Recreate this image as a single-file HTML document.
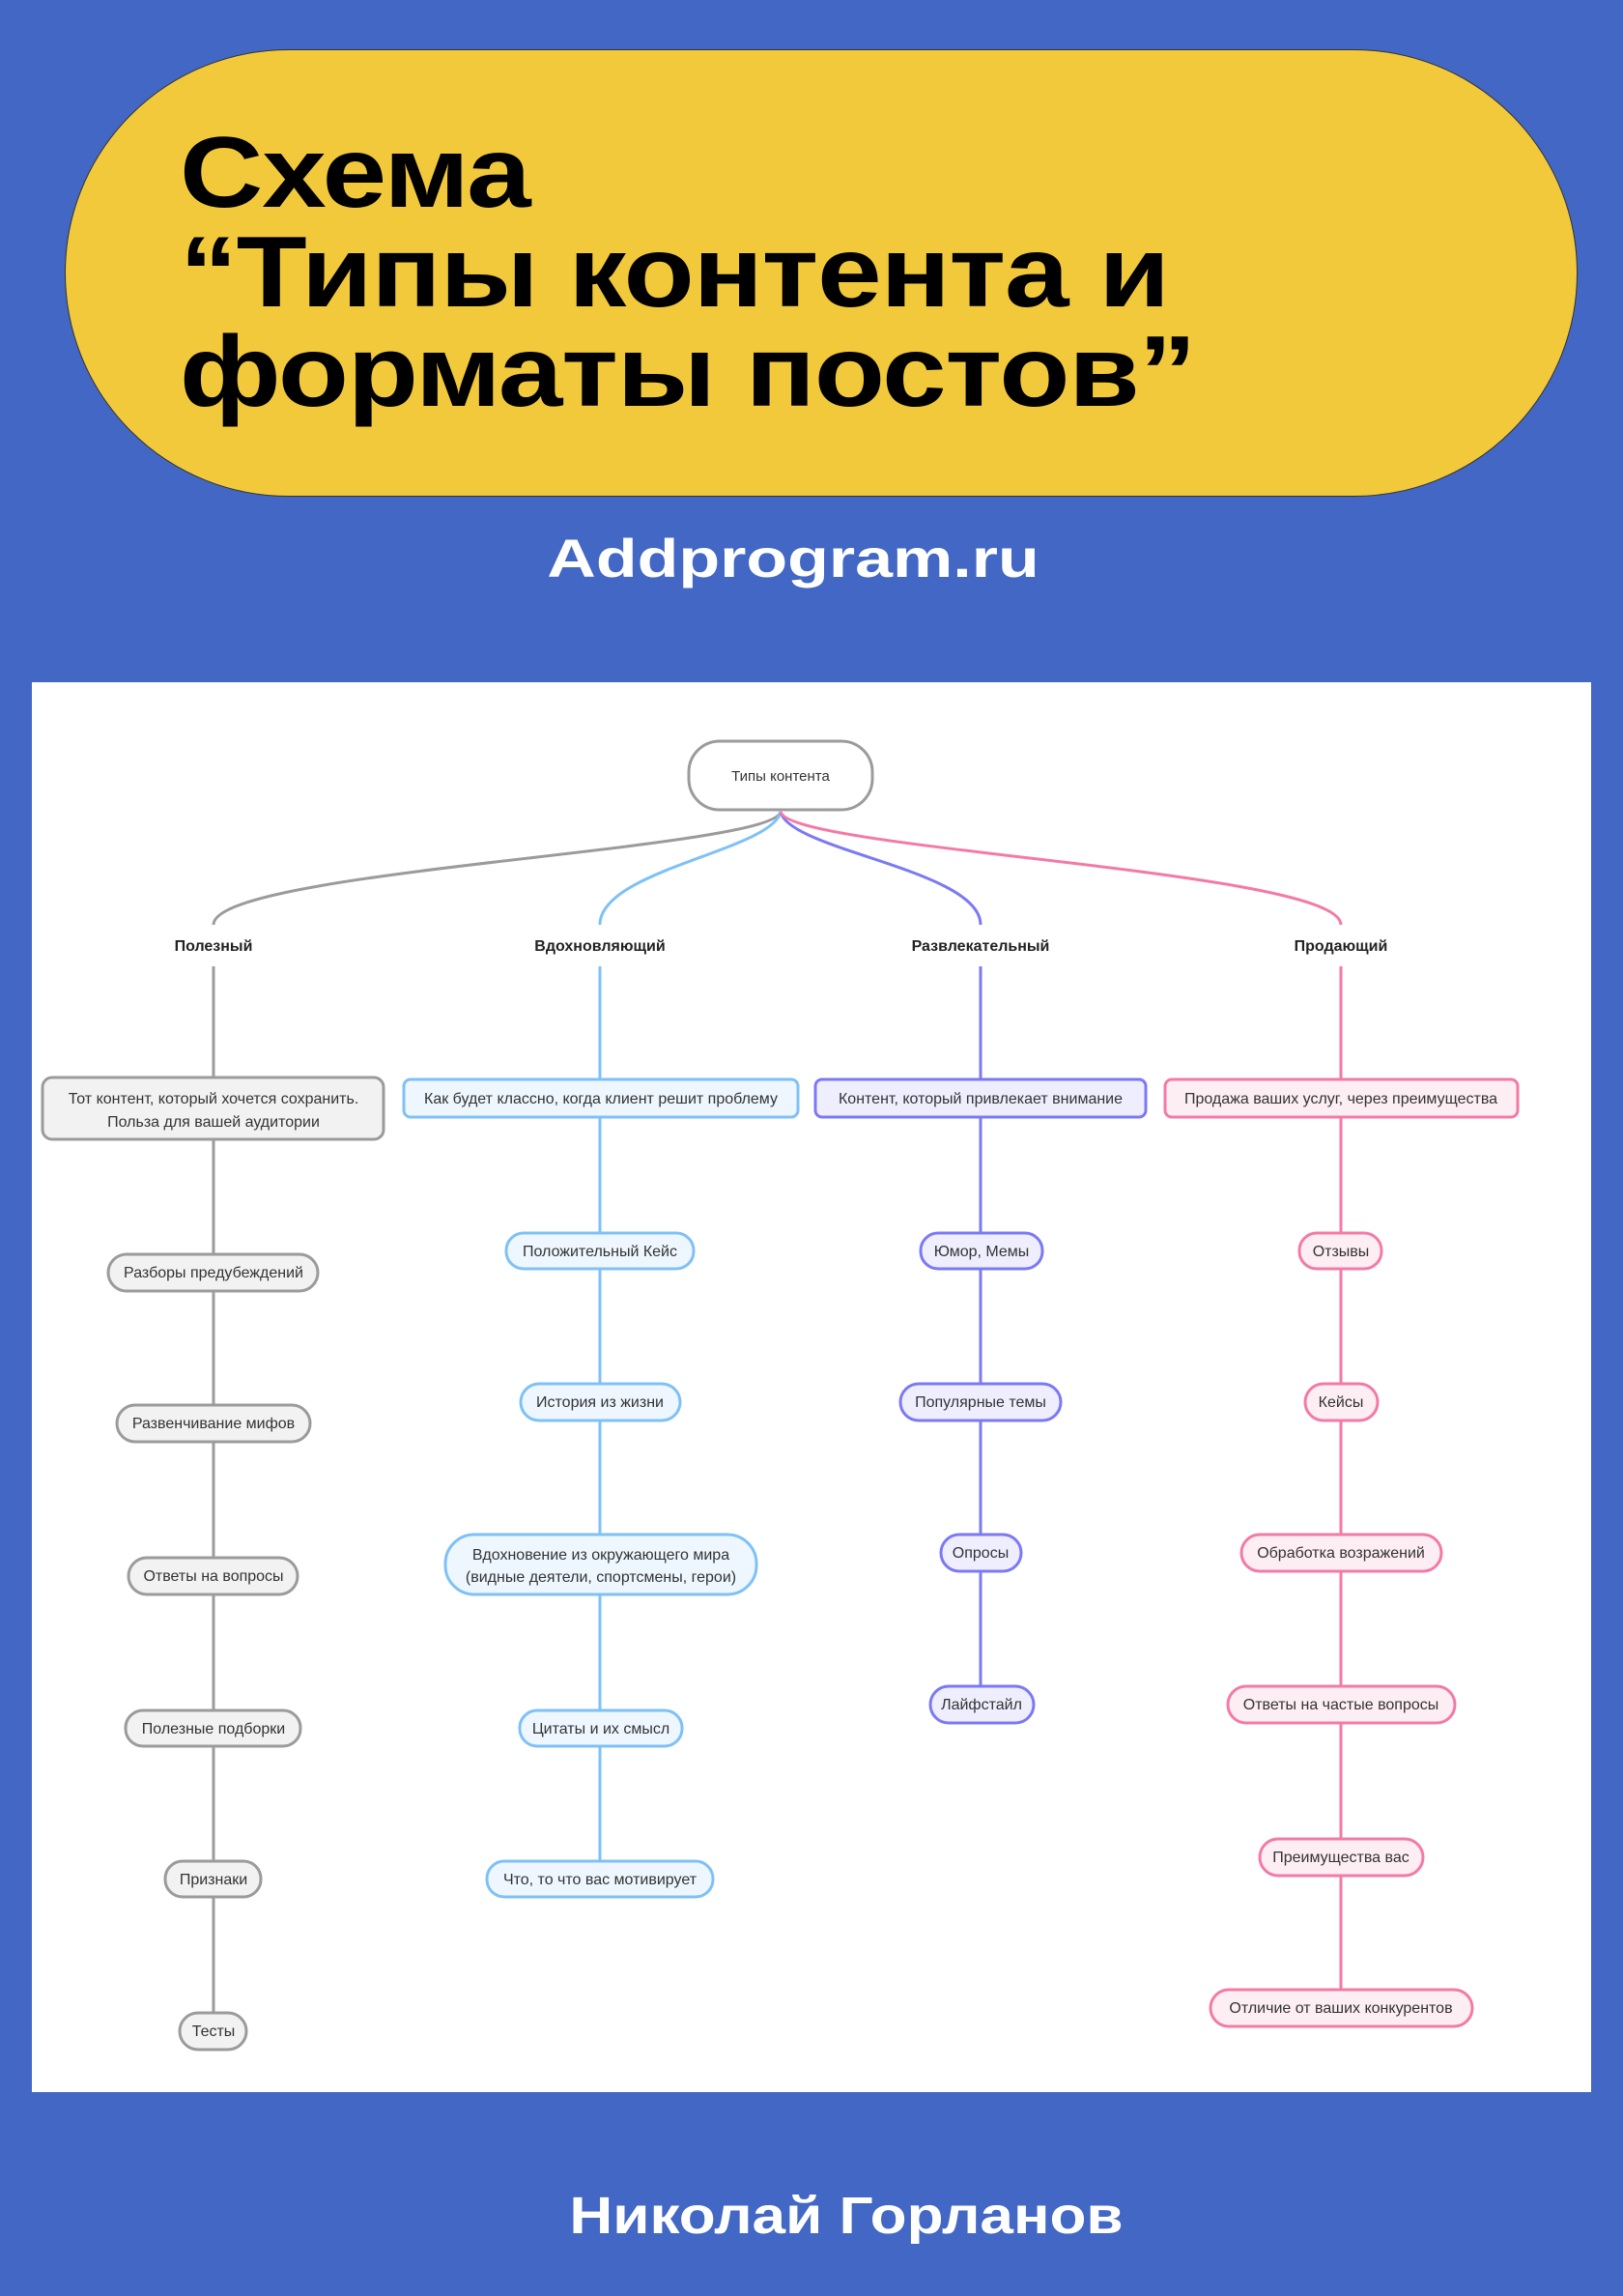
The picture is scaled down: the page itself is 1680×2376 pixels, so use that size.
<!DOCTYPE html>
<html><head><meta charset="utf-8"><style>
html,body{margin:0;padding:0}
body{width:1680px;height:2376px;background:#4267c4;position:relative;overflow:hidden;font-family:"Liberation Sans",sans-serif}
.pill{position:absolute;left:67px;top:51px;width:1566px;height:463px;background:#f2c93b;border:1.5px solid #333;border-radius:232px/232px;box-sizing:border-box}
.title{position:absolute;left:186px;top:128px;font-weight:bold;font-size:104px;line-height:103px;color:#000;letter-spacing:-1px;transform:scaleX(1.15);transform-origin:0 0;white-space:nowrap}
.site{position:absolute;left:0;width:1642px;text-align:center;top:545px;font-size:56px;font-weight:bold;color:#fff;transform:scaleX(1.25);transform-origin:821px 0}
.foot{position:absolute;left:0;width:1752px;text-align:center;top:2262px;font-size:54px;font-weight:bold;color:#fff;transform:scaleX(1.15);transform-origin:876px 0}
.panel{position:absolute;left:33px;top:706px;width:1614px;height:1459px;background:#fff}
</style></head><body>
<div class="pill"></div>
<div class="title">Схема<br>“Типы контента и<br>форматы постов”</div>
<div class="site">Addprogram.ru</div>
<div class="panel"></div>
<div class="foot">Николай Горланов</div>
<svg width="1680" height="2376" style="position:absolute;left:0;top:0" font-family="Liberation Sans, sans-serif" font-size="16" text-anchor="middle">
<g fill="none" stroke-width="3">
<path d="M808,840 C800,880 221,900 221,957" stroke="#9b9b9b"/>
<path d="M808,840 C800,880 621,900 621,957" stroke="#7ec1f7"/>
<path d="M808,840 C816,880 1015,900 1015,957" stroke="#7b79f5"/>
<path d="M808,840 C816,880 1388,900 1388,957" stroke="#f47aa6"/>
<line x1="221" y1="1000" x2="221" y2="2083" stroke="#9b9b9b"/>
<line x1="621" y1="1000" x2="621" y2="1926" stroke="#7ec1f7"/>
<line x1="1015" y1="1000" x2="1015" y2="1745" stroke="#7b79f5"/>
<line x1="1388" y1="1000" x2="1388" y2="2059" stroke="#f47aa6"/>
</g>
<rect x="713" y="767" width="190" height="71" rx="32" fill="#fff" stroke="#9b9b9b" stroke-width="3"/>
<text x="808" y="808" fill="#333" font-size="15">Типы контента</text>
<g font-weight="bold" font-size="16" fill="#222">
<text x="221" y="984">Полезный</text>
<text x="621" y="984">Вдохновляющий</text>
<text x="1015" y="984">Развлекательный</text>
<text x="1388" y="984">Продающий</text>
</g>
<g stroke-width="3" fill="#f3f2f2" stroke="#9b9b9b">
<rect x="44" y="1115" width="353" height="64" rx="10"/>
<rect x="112" y="1298" width="217" height="38" rx="19"/>
<rect x="121" y="1454" width="200" height="38" rx="19"/>
<rect x="133" y="1612" width="175" height="38" rx="19"/>
<rect x="130" y="1770" width="181" height="37" rx="18"/>
<rect x="171" y="1926" width="99" height="37" rx="18"/>
<rect x="186" y="2083" width="69" height="38" rx="19"/>
</g>
<g stroke-width="3" fill="#eef7ff" stroke="#7ec1f7">
<rect x="418" y="1117" width="408" height="39" rx="7"/>
<rect x="524" y="1276" width="194" height="37" rx="18"/>
<rect x="539" y="1432" width="165" height="38" rx="19"/>
<rect x="461" y="1588" width="322" height="62" rx="30"/>
<rect x="538" y="1770" width="168" height="37" rx="18"/>
<rect x="504" y="1926" width="234" height="37" rx="18"/>
</g>
<g stroke-width="3" fill="#efeefe" stroke="#7b79f5">
<rect x="844" y="1117" width="342" height="39" rx="7"/>
<rect x="953" y="1276" width="126" height="37" rx="18"/>
<rect x="932" y="1432" width="166" height="38" rx="19"/>
<rect x="974" y="1588" width="83" height="38" rx="19"/>
<rect x="963" y="1745" width="107" height="38" rx="19"/>
</g>
<g stroke-width="3" fill="#fdeef3" stroke="#f47aa6">
<rect x="1206" y="1117" width="365" height="39" rx="7"/>
<rect x="1345" y="1276" width="85" height="37" rx="18"/>
<rect x="1351" y="1432" width="75" height="38" rx="19"/>
<rect x="1285" y="1588" width="207" height="38" rx="19"/>
<rect x="1271" y="1745" width="235" height="38" rx="19"/>
<rect x="1304" y="1903" width="169" height="38" rx="19"/>
<rect x="1253" y="2059" width="271" height="38" rx="19"/>
</g>
<g fill="#333">
<text x="221" y="1142">Тот контент, который хочется сохранить.</text>
<text x="221" y="1166">Польза для вашей аудитории</text>
<text x="221" y="1322">Разборы предубеждений</text>
<text x="221" y="1478">Развенчивание мифов</text>
<text x="221" y="1636">Ответы на вопросы</text>
<text x="221" y="1794">Полезные подборки</text>
<text x="221" y="1950">Признаки</text>
<text x="221" y="2107">Тесты</text>
<text x="622" y="1142">Как будет классно, когда клиент решит проблему</text>
<text x="621" y="1300">Положительный Кейс</text>
<text x="621" y="1456">История из жизни</text>
<text x="622" y="1614">Вдохновение из окружающего мира</text>
<text x="622" y="1637">(видные деятели, спортсмены, герои)</text>
<text x="622" y="1794">Цитаты и их смысл</text>
<text x="621" y="1950">Что, то что вас мотивирует</text>
<text x="1015" y="1142">Контент, который привлекает внимание</text>
<text x="1016" y="1300">Юмор, Мемы</text>
<text x="1015" y="1456">Популярные темы</text>
<text x="1015" y="1612">Опросы</text>
<text x="1016" y="1769">Лайфстайл</text>
<text x="1388" y="1142">Продажа ваших услуг, через преимущества</text>
<text x="1388" y="1300">Отзывы</text>
<text x="1388" y="1456">Кейсы</text>
<text x="1388" y="1612">Обработка возражений</text>
<text x="1388" y="1769">Ответы на частые вопросы</text>
<text x="1388" y="1927">Преимущества вас</text>
<text x="1388" y="2083">Отличие от ваших конкурентов</text>
</g>
</svg>
</body></html>
